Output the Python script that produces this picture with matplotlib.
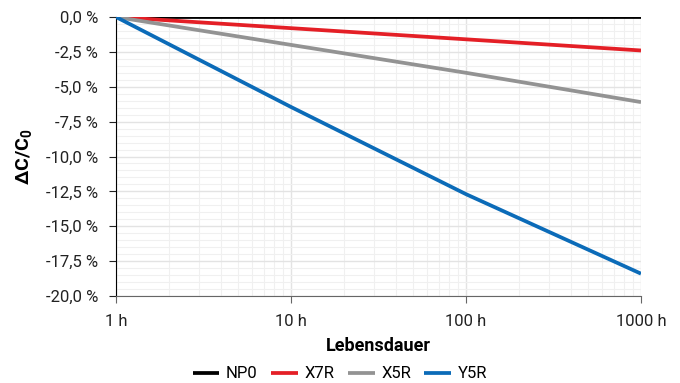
import numpy as np
import matplotlib
matplotlib.use('Agg')
import matplotlib.pyplot as plt
from matplotlib.ticker import FixedLocator, FuncFormatter, MultipleLocator, LogLocator

plt.rcParams['font.family'] = ['Roboto', 'DejaVu Sans']
plt.rcParams['mathtext.fontset'] = 'custom'
plt.rcParams['mathtext.bf'] = 'Roboto:bold'
plt.rcParams['mathtext.rm'] = 'Roboto'

# data (percent change of capacitance vs lifetime in hours)
hours = [1, 10, 100, 1000]
np0 = [0.0, 0.0, 0.0, 0.0]
x7r = [0.0, -0.8, -1.6, -2.4]
x5r = [0.0, -2.0, -4.0, -6.1]
y5r = [0.0, -6.45, -12.7, -18.4]

series = [('NP0', np0, '#000000'), ('X7R', x7r, '#e41f26'),
          ('X5R', x5r, '#939393'), ('Y5R', y5r, '#0b6bb8')]
xtick_labels = ['1 h', '10 h', '100 h', '1000 h']

fig = plt.figure(figsize=(6.8, 3.83), dpi=100)
ax = fig.add_axes([116/680, 1-296/383, (641-116)/680, (296-17)/383])

for name, vals, col in series:
    ax.plot(hours, vals, color=col, lw=2.7, label=name, solid_capstyle='butt', zorder=3)

ax.set_xscale('log')
ax.set_xlim(1, 1000)
ax.set_ylim(-20, 0)
ax.xaxis.set_major_locator(FixedLocator(hours))
ax.xaxis.set_major_formatter(FuncFormatter(lambda v, p: xtick_labels[int(round(np.log10(v)))]))
ax.xaxis.set_minor_locator(LogLocator(base=10, subs=np.arange(2, 10)))
ax.xaxis.set_minor_formatter(FuncFormatter(lambda v, p: ''))
ax.yaxis.set_major_locator(MultipleLocator(2.5))
ax.yaxis.set_minor_locator(MultipleLocator(0.5))
ax.yaxis.set_major_formatter(FuncFormatter(lambda v, p: f'{v:.1f} %'.replace('.', ',')))

ax.grid(which='major', color='#e3e3e3', lw=1, zorder=0)
ax.grid(which='minor', color='#f0f0f0', lw=0.8, zorder=0)
ax.set_axisbelow(True)

for s in ['top', 'right']:
    ax.spines[s].set_visible(False)
ax.spines['left'].set_color('black')
ax.spines['bottom'].set_color('#666666')
ax.tick_params(which='minor', length=0)
ax.tick_params(axis='y', which='major', length=5, labelsize=12, colors='#222222', pad=8)
ax.tick_params(axis='x', which='major', length=5, labelsize=12, colors='#222222', pad=8)
ax.tick_params(axis='x', which='major', color='#666666')

ax.set_xlabel('Lebensdauer', fontsize=13, fontweight='bold', labelpad=6)
ax.set_ylabel(r'$\mathbf{\Delta C/C_0}$', fontsize=14, labelpad=8)

fig.legend(loc='center', bbox_to_anchor=(0.5, 1-374/383), ncol=4, frameon=False,
           fontsize=12, handlelength=1.6, columnspacing=0.8, handletextpad=0.4)

fig.savefig('out.png', dpi=100)
